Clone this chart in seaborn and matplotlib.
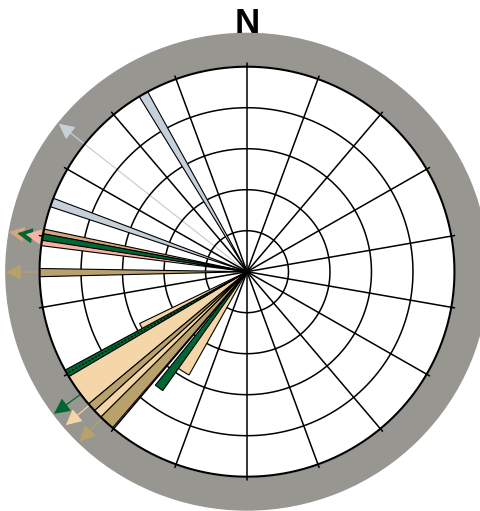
import numpy as np
import pandas as pd
import seaborn as sns
import matplotlib.pyplot as plt

sns.set_theme(style="white")

# wedges: start / end bearing (deg, clockwise from N) and length in ring units
wedge_start = [328.7, 288.5, 280.6, 277.3, 278.8, 268.6, 240.5, 229.8, 239.2, 227.3, 224.8, 220.4, 209.0, 215.0]
wedge_end = [331.4, 291.0, 282.0, 279.0, 280.7, 270.9, 244.0, 239.4, 241.3, 229.8, 227.3, 224.8, 217.5, 218.6]
wedge_len = [5, 5, 5, 5, 5, 5, 2.88, 5, 5, 5, 5, 5, 2.88, 3.54]
wedge_group = ['blue', 'blue', 'tan', 'pink', 'green', 'khaki', 'wheat', 'wheat', 'green',
               'khaki', 'wheat', 'khaki', 'wheat', 'green']

# mean directions (arrows)
arrow_dir = [308.5, 279.6, 279.6, 279.7, 269.9, 233.3, 229.4, 224.3]
arrow_len = [5.80, 5.82, 5.62, 5.41, 5.82, 5.80, 5.75, 5.78]
arrow_group = ['blue', 'tan', 'green', 'pink', 'khaki', 'green', 'wheat', 'khaki']

colors = {'blue': '#c6d0da', 'tan': '#d6a67e', 'pink': '#f7b2a8', 'green': '#006633',
          'khaki': '#b9a16b', 'wheat': '#f4d6a8'}

wedges = pd.DataFrame({'start': wedge_start, 'end': wedge_end, 'len': wedge_len, 'group': wedge_group})
arrows = pd.DataFrame({'dir': arrow_dir, 'len': arrow_len, 'group': arrow_group})

fig = plt.figure(figsize=(4.81, 5.11), dpi=100)
# the rose is drawn very slightly wider than tall
rx, ry = 239 * 1.012, 239
ax = fig.add_axes([(247 - rx) / 481, (511 - 271.7 - ry) / 511, 2 * rx / 481, 2 * ry / 511],
                  projection='polar')
ax.set_aspect('auto')
ax.set_theta_zero_location('N')
ax.set_theta_direction(-1)
ax.set_facecolor('#979690')
ax.set_ylim(0, 239 / 41)
ax.set_xticks([])
ax.set_yticks([])
ax.grid(False)
ax.spines['polar'].set_visible(False)

# white plotting disk
ax.bar(0, 5, width=2 * np.pi, bottom=0, color='white', zorder=0.5)

# mean vectors, drawn under grid and wedges
for _, a in arrows.iterrows():
    t = np.deg2rad(a['dir'])
    ax.annotate('', xy=(t, a['len']), xytext=(t, 0), annotation_clip=False, zorder=1,
                arrowprops=dict(arrowstyle='-|>,head_length=0.6,head_width=0.3',
                                color=colors[a['group']], lw=0.9,
                                shrinkA=0, shrinkB=0, mutation_scale=16))

# grid
full = np.linspace(0, 2 * np.pi, 400)
for r in [1, 2, 3, 4]:
    ax.plot(full, np.full_like(full, r), color='black', lw=1.1, zorder=2)
for d in range(0, 360, 20):
    t = np.deg2rad(d)
    ax.plot([t, t], [0, 5.08], color='black', lw=1.1, zorder=2)

# petals
for _, w in wedges.iterrows():
    t0, t1 = np.deg2rad(w['start']), np.deg2rad(w['end'])
    ax.bar((t0 + t1) / 2, w['len'], width=t1 - t0, bottom=0, color=colors[w['group']],
           edgecolor='black', lw=0.8, zorder=3)
t = np.deg2rad(240.25)
ax.plot([t, t], [0, 5], color='black', lw=0.9, ls=(0, (1.5, 1.5)), zorder=3.5)

ax.plot(full, np.full_like(full, 5), color='black', lw=1.5, zorder=4)

fig.text(247.5 / 481, (511 - 33.3) / 511, 'N', ha='center', va='baseline', fontsize=25,
         fontweight='bold', family='Liberation Sans', color='black')

fig.savefig('out.png', dpi=100)
